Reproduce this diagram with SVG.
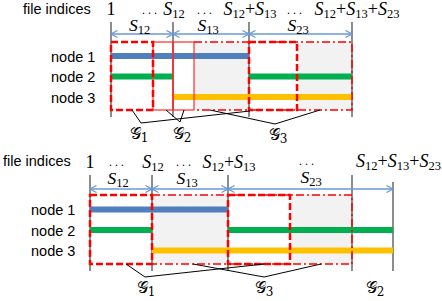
<svg xmlns="http://www.w3.org/2000/svg" width="442" height="301" viewBox="0 0 442 301">
<style>
.lbl{font-family:"Liberation Sans","DejaVu Sans",sans-serif;font-size:14.5px;fill:#000}
.m{font-family:"Liberation Serif","DejaVu Serif",serif;font-size:18px;fill:#000;text-anchor:middle}
.a{font-family:"Liberation Serif","DejaVu Serif",serif;font-size:17.5px;fill:#000;text-anchor:middle}
.d{font-family:"Liberation Serif","DejaVu Serif",serif;font-size:12px;fill:#000;letter-spacing:3px}
.it{font-style:italic}
.sub{font-size:12.5px;font-style:normal}
.g{font-family:"DejaVu Serif","DejaVu Sans","Liberation Serif",serif;font-size:16px;fill:#000;text-anchor:middle}
.gs{font-size:12px}
.vl{stroke:#404040;stroke-width:1.2;fill:none}
.arr{stroke:#6a9ad6;stroke-width:1.3;fill:none;marker-start:url(#ah);marker-end:url(#ah)}
.gray{fill:#f2f2f2;stroke:none}
.blue{stroke:#4f7fbd;stroke-width:6}
.green{stroke:#00b050;stroke-width:6}
.yellow{stroke:#ffc000;stroke-width:6}
.dash{fill:none;stroke:#ff0000;stroke-width:2.5;stroke-dasharray:7 3}
.dd{fill:none;stroke:#ff0000;stroke-width:1.5;stroke-dasharray:8 3 2 3}
.thin{fill:none;stroke:#ff2a2a;stroke-width:1.2}
.br{stroke:#000;stroke-width:1;fill:none}
</style>
<defs>
<marker id="ah" viewBox="0 0 8 8" refX="7" refY="4" markerWidth="8" markerHeight="8" markerUnits="userSpaceOnUse" orient="auto-start-reverse">
<path d="M0.5,0.5 L7,4 L0.5,7.5" fill="none" stroke="#6a9ad6" stroke-width="1.2"/>
</marker>
</defs>

<!-- ============ TOP DIAGRAM ============ -->
<g id="top">
<g id="top-fills">
<rect class="gray" x="194" y="42" width="55" height="68"/>
<rect class="gray" x="297" y="42" width="55" height="68"/>
</g>
<g id="top-axes">
<line class="vl" x1="111" y1="22" x2="111" y2="117"/>
<line class="vl" x1="173" y1="22" x2="173" y2="117"/>
<line class="vl" x1="249" y1="22" x2="249" y2="117"/>
<line class="vl" x1="352" y1="22" x2="352" y2="117"/>
</g>
<g id="top-arrows">
<line class="arr" x1="111" y1="34" x2="173" y2="34"/>
<line class="arr" x1="173" y1="34" x2="249" y2="34"/>
<line class="arr" x1="249" y1="34" x2="352" y2="34"/>
</g>
<g id="top-node1"><text class="lbl" x="51" y="61.5">node 1</text><line class="blue" x1="111" y1="56" x2="249" y2="56"/></g>
<g id="top-node2"><text class="lbl" x="51" y="82">node 2</text><line class="green" x1="111" y1="76.5" x2="173" y2="76.5"/><line class="green" x1="249" y1="76.5" x2="352" y2="76.5"/></g>
<g id="top-node3"><text class="lbl" x="51" y="102.5">node 3</text><line class="yellow" x1="173" y1="97" x2="352" y2="97"/></g>
<g id="top-boxes">
<rect class="thin" x="153" y="42" width="20" height="68"/>
<rect class="thin" x="173" y="42" width="21" height="68"/>
<path class="dd" d="M194,42 H352 V110 H194"/>
<rect class="dash" x="111" y="42" width="42" height="68"/>
<rect class="dash" x="249" y="42" width="48" height="68"/>
</g>
<g id="top-labels">
<text class="lbl" x="23" y="13.5">file indices</text>
<text class="m" x="111" y="15">1</text>
<text class="d" x="142" y="13.5">...</text>
<text class="m" x="174" y="15"><tspan class="it">S</tspan><tspan class="sub" dy="3">12</tspan></text>
<text class="d" x="197" y="13.5">...</text>
<text class="m" x="250" y="15"><tspan class="it">S</tspan><tspan class="sub" dy="3">12</tspan><tspan dy="-3">+</tspan><tspan class="it">S</tspan><tspan class="sub" dy="3">13</tspan></text>
<text class="d" x="287" y="13.5">...</text>
<text class="m" x="357" y="15"><tspan class="it">S</tspan><tspan class="sub" dy="3">12</tspan><tspan dy="-3">+</tspan><tspan class="it">S</tspan><tspan class="sub" dy="3">13</tspan><tspan dy="-3">+</tspan><tspan class="it">S</tspan><tspan class="sub" dy="3">23</tspan></text>
<text class="a" x="139.5" y="31"><tspan class="it">S</tspan><tspan class="sub" dy="2.5">12</tspan></text>
<text class="a" x="208" y="31"><tspan class="it">S</tspan><tspan class="sub" dy="2.5">13</tspan></text>
<text class="a" x="298" y="31"><tspan class="it">S</tspan><tspan class="sub" dy="2.5">23</tspan></text>
<text class="g" x="139" y="139">𝒢<tspan class="gs" dy="3">1</tspan></text>
<text class="g" x="182" y="139">𝒢<tspan class="gs" dy="3">2</tspan></text>
<text class="g" x="278" y="140">𝒢<tspan class="gs" dy="3">3</tspan></text>
</g>
</g>

<!-- ============ BOTTOM DIAGRAM ============ -->
<g id="bottom">
<g id="bot-fills">
<rect class="gray" x="152" y="195" width="76" height="69"/>
<rect class="gray" x="290" y="195" width="62" height="69"/>
</g>
<g id="bot-axes">
<line class="vl" x1="90" y1="175" x2="90" y2="271"/>
<line class="vl" x1="152" y1="175" x2="152" y2="271"/>
<line class="vl" x1="228" y1="175" x2="228" y2="271"/>
<line class="vl" x1="352" y1="175" x2="352" y2="271"/>
<line class="vl" x1="393" y1="182" x2="393" y2="271"/>
</g>
<g id="bot-arrows">
<line class="arr" x1="90" y1="189" x2="152" y2="189"/>
<line class="arr" x1="152" y1="189" x2="228" y2="189"/>
<line class="arr" x1="228" y1="189" x2="393" y2="189"/>
</g>
<g id="bot-node1"><text class="lbl" x="31" y="215">node 1</text><line class="blue" x1="90" y1="209.5" x2="228" y2="209.5"/></g>
<g id="bot-node2"><text class="lbl" x="31" y="236">node 2</text><line class="green" x1="90" y1="230" x2="152" y2="230"/><line class="green" x1="228" y1="230" x2="393" y2="230"/></g>
<g id="bot-node3"><text class="lbl" x="31" y="256">node 3</text><line class="yellow" x1="152" y1="250.5" x2="393" y2="250.5"/></g>
<g id="bot-boxes">
<path class="dd" d="M152,195 H352 V264 H152"/>
<rect class="dash" x="90" y="195" width="62" height="69"/>
<rect class="dash" x="228" y="195" width="62" height="69"/>
</g>
<g id="bot-labels">
<text class="lbl" x="3" y="166">file indices</text>
<text class="m" x="90" y="168">1</text>
<text class="d" x="109" y="166">...</text>
<text class="m" x="153" y="168"><tspan class="it">S</tspan><tspan class="sub" dy="3">12</tspan></text>
<text class="d" x="176" y="166">...</text>
<text class="m" x="229" y="168"><tspan class="it">S</tspan><tspan class="sub" dy="3">12</tspan><tspan dy="-3">+</tspan><tspan class="it">S</tspan><tspan class="sub" dy="3">13</tspan></text>
<text class="d" x="299" y="165">...</text>
<text class="m" x="398.5" y="167"><tspan class="it">S</tspan><tspan class="sub" dy="3">12</tspan><tspan dy="-3">+</tspan><tspan class="it">S</tspan><tspan class="sub" dy="3">13</tspan><tspan dy="-3">+</tspan><tspan class="it">S</tspan><tspan class="sub" dy="3">23</tspan></text>
<text class="a" x="118" y="184"><tspan class="it">S</tspan><tspan class="sub" dy="2.5">12</tspan></text>
<text class="a" x="187" y="184"><tspan class="it">S</tspan><tspan class="sub" dy="2.5">13</tspan></text>
<text class="a" x="311" y="183"><tspan class="it">S</tspan><tspan class="sub" dy="2.5">23</tspan></text>
<text class="g" x="146" y="293">𝒢<tspan class="gs" dy="3">1</tspan></text>
<text class="g" x="264" y="293">𝒢<tspan class="gs" dy="3">3</tspan></text>
<text class="g" x="375" y="293">𝒢<tspan class="gs" dy="3">2</tspan></text>
</g>
</g>

<g id="connectors">
<polyline class="br" points="132,110 141,123 250,111"/>
<polyline class="br" points="166,110 180,122 184,110"/>
<polyline class="br" points="210,110 275,124 320,110"/>
<polyline class="br" points="126,264 145,277 264,264"/>
<polyline class="br" points="193,264 264,277 321,264"/>
</g>
</svg>
